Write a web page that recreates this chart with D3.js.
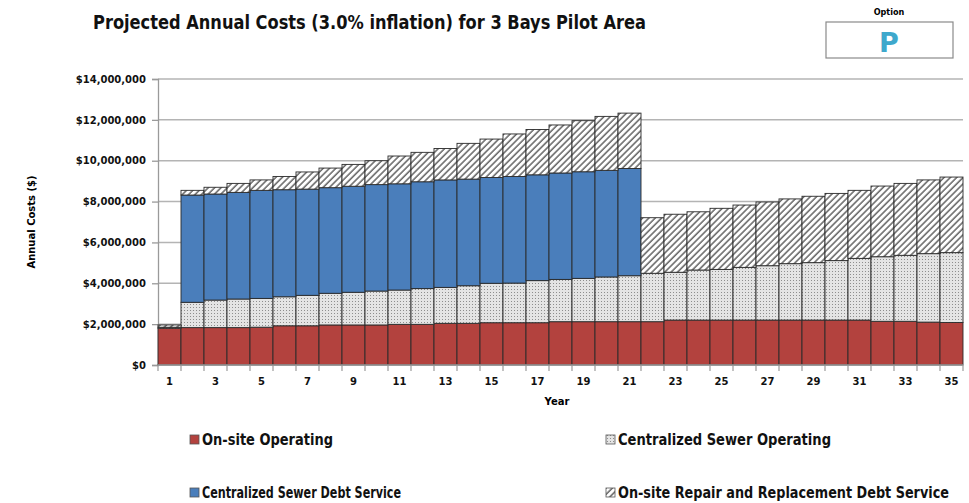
<!DOCTYPE html>
<html>
<head>
<meta charset="utf-8">
<script src="https://cdn.jsdelivr.net/npm/d3@7"></script>
<style>
  html, body { margin: 0; padding: 0; background: #fff; }
  svg { display: block; }
  .narrow { font-family: "Liberation Sans Narrow", "Arial Narrow", "DejaVu Sans Condensed", sans-serif; font-weight: bold; }
  .axis text { font-family: "DejaVu Sans", sans-serif; font-weight: bold; font-size: 10px; fill: #111; }
</style>
</head>
<body>
<svg id="chart" width="969" height="503"></svg>
<script>
// Projected annual costs by year, in millions of dollars
const years = d3.range(1, 36);
const onsiteOperating = [
  1.80, 1.83, 1.83, 1.83, 1.85, 1.92, 1.92, 1.96, 1.96, 1.96,
  1.99, 1.99, 2.04, 2.04, 2.07, 2.07, 2.07, 2.12, 2.12, 2.12,
  2.12, 2.12, 2.20, 2.20, 2.20, 2.20, 2.20, 2.20, 2.20, 2.20,
  2.20, 2.14, 2.14, 2.10, 2.08
];
const sewerOperating = [
  0.05, 1.24, 1.35, 1.40, 1.41, 1.42, 1.49, 1.55, 1.60, 1.66,
  1.68, 1.75, 1.76, 1.84, 1.93, 1.94, 2.06, 2.07, 2.12, 2.19,
  2.25, 2.37, 2.34, 2.45, 2.48, 2.58, 2.66, 2.76, 2.81, 2.91,
  3.02, 3.16, 3.23, 3.35, 3.42
];
const sewerDebt = [
  0.00, 5.25, 5.19, 5.22, 5.29, 5.24, 5.20, 5.17, 5.19, 5.21,
  5.20, 5.23, 5.26, 5.22, 5.18, 5.22, 5.18, 5.21, 5.22, 5.22,
  5.25, 0, 0, 0, 0, 0, 0, 0, 0, 0,
  0, 0, 0, 0, 0
];
const repairDebt = [
  0.11, 0.23, 0.33, 0.44, 0.51, 0.65, 0.84, 0.96, 1.07, 1.17,
  1.36, 1.44, 1.54, 1.75, 1.88, 2.08, 2.22, 2.35, 2.50, 2.64,
  2.71, 2.72, 2.84, 2.85, 2.99, 3.05, 3.12, 3.17, 3.25, 3.29,
  3.33, 3.46, 3.52, 3.61, 3.70
];
const seriesKeys = ["onsite", "sewerOp", "sewerDebt", "repair"];
const seriesNames = [
  "On-site Operating",
  "Centralized Sewer Operating",
  "Centralized Sewer Debt Service",
  "On-site Repair and Replacement Debt Service"
];
const yTicks = [0, 2e6, 4e6, 6e6, 8e6, 10e6, 12e6, 14e6];
const xTickYears = d3.range(1, 36, 2);

const rows = years.map((yr, i) => ({
  year: yr,
  onsite: onsiteOperating[i] * 1e6,
  sewerOp: sewerOperating[i] * 1e6,
  sewerDebt: sewerDebt[i] * 1e6,
  repair: repairDebt[i] * 1e6
}));

const svg = d3.select("#chart");
const defs = svg.append("defs");

// dotted fill for the sewer operating series
const dots = defs.append("pattern").attr("id", "dots")
  .attr("patternUnits", "userSpaceOnUse").attr("width", 3).attr("height", 3);
dots.append("rect").attr("width", 3).attr("height", 3).attr("fill", "#e4e4e4");
dots.append("rect").attr("x", 1).attr("y", 1).attr("width", 1).attr("height", 1).attr("fill", "#8e8e8e");

// diagonal hatching for the repair and replacement series
const hatch = defs.append("pattern").attr("id", "hatch")
  .attr("patternUnits", "userSpaceOnUse").attr("width", 4.5).attr("height", 4.5)
  .attr("patternTransform", "rotate(45)");
hatch.append("rect").attr("width", 4.5).attr("height", 4.5).attr("fill", "#fff");
hatch.append("line").attr("x1", 1).attr("y1", 0).attr("x2", 1).attr("y2", 4.5)
  .attr("stroke", "#4a4a4a").attr("stroke-width", 1.3);

const fills = {
  onsite: "#b3423e",
  sewerOp: "url(#dots)",
  sewerDebt: "#4a7ebb",
  repair: "url(#hatch)"
};

const x = d3.scaleBand().domain(years).range([158, 963]).padding(0);
const y = d3.scaleLinear().domain([0, 14e6]).range([365, 79]);

// gridlines
svg.append("g").selectAll("line").data(yTicks.slice(1)).join("line")
  .attr("x1", 158).attr("x2", 963)
  .attr("y1", d => y(d)).attr("y2", d => y(d))
  .attr("stroke", "#b4b4b4").attr("stroke-width", 1.5);

// y axis
const yAxis = svg.append("g").attr("class", "axis").attr("transform", "translate(158,0)")
  .call(d3.axisLeft(y).tickValues(yTicks).tickSize(6).tickPadding(6)
    .tickFormat(d => "$" + d3.format(",")(d)));
yAxis.select(".domain").attr("stroke", "#9a9a9a").attr("stroke-width", 1.3);
yAxis.selectAll(".tick line").attr("stroke", "#9a9a9a").attr("stroke-width", 1.3);

// stacked bars
const stack = d3.stack().keys(seriesKeys)(rows);
svg.append("g").selectAll("g").data(stack).join("g")
  .attr("fill", d => fills[d.key])
  .selectAll("rect").data(d => d.filter(p => p[1] - p[0] > 0)).join("rect")
  .attr("x", d => x(d.data.year))
  .attr("width", x.bandwidth())
  .attr("y", d => y(d[1]))
  .attr("height", d => y(d[0]) - y(d[1]))
  .attr("stroke", "#2a2a2a").attr("stroke-width", 0.9);

// x axis: tick marks between categories, labels on odd years
const xg = svg.append("g").attr("class", "axis");
xg.append("line").attr("x1", 158).attr("x2", 963).attr("y1", 365).attr("y2", 365)
  .attr("stroke", "#9a9a9a").attr("stroke-width", 1.3);
xg.selectAll("line.tk").data(years.concat([36])).join("line").attr("class", "tk")
  .attr("x1", d => d <= 35 ? x(d) : x(35) + x.bandwidth())
  .attr("x2", d => d <= 35 ? x(d) : x(35) + x.bandwidth())
  .attr("y1", 365).attr("y2", 371)
  .attr("stroke", "#9a9a9a").attr("stroke-width", 1.2);
xg.selectAll("text").data(xTickYears).join("text")
  .attr("x", d => x(d) + x.bandwidth() / 2).attr("y", 385)
  .attr("text-anchor", "middle").text(d => d);

// axis titles
svg.append("text").attr("class", "axis")
  .attr("x", 557).attr("y", 405).attr("text-anchor", "middle")
  .style("font-family", "DejaVu Sans, sans-serif").style("font-weight", "bold")
  .style("font-size", "10px").text("Year");
svg.append("text")
  .attr("transform", "translate(35,222) rotate(-90)").attr("text-anchor", "middle")
  .style("font-family", "DejaVu Sans, sans-serif").style("font-weight", "bold")
  .style("font-size", "10px").text("Annual Costs ($)");

// fit a text element to a target width
function fit(sel, w) {
  const len = sel.node().getComputedTextLength();
  if (Math.abs(len - w) / w > 0.02) sel.attr("textLength", w).attr("lengthAdjust", "spacingAndGlyphs");
  return sel;
}

// title
fit(svg.append("text").attr("class", "narrow")
  .attr("x", 93).attr("y", 29).style("font-size", "19px").attr("fill", "#111")
  .text("Projected Annual Costs (3.0% inflation) for 3 Bays Pilot Area"), 553);

// option box
svg.append("text").attr("class", "narrow").attr("x", 889).attr("y", 15)
  .attr("text-anchor", "middle").style("font-size", "9px").text("Option");
svg.append("rect").attr("x", 826).attr("y", 22).attr("width", 127).attr("height", 36)
  .attr("fill", "#fff").attr("stroke", "#8a8a8a").attr("stroke-width", 1.2);
svg.append("text").attr("x", 889).attr("y", 52).attr("text-anchor", "middle")
  .style("font-family", "DejaVu Sans, sans-serif").style("font-size", "27px")
  .style("font-weight", "bold").attr("fill", "#3ea8cc").text("P");

// legend
const legendPos = [[190, 440, 131], [606, 440, 213], [190, 493, 199], [606, 493, 331]];
const leg = svg.append("g").selectAll("g").data(seriesKeys).join("g")
  .attr("transform", (d, i) => `translate(${legendPos[i][0]},${legendPos[i][1]})`);
leg.append("rect").attr("x", 0).attr("y", -5).attr("width", 9).attr("height", 9)
  .attr("fill", d => fills[d]).attr("stroke", "#555").attr("stroke-width", 0.8);
leg.append("text").attr("class", "narrow").attr("x", 12).attr("y", 5)
  .style("font-size", "15px").attr("fill", "#111")
  .text((d, i) => seriesNames[i])
  .each(function (d, i) { fit(d3.select(this), legendPos[i][2]); });
</script>
</body>
</html>
